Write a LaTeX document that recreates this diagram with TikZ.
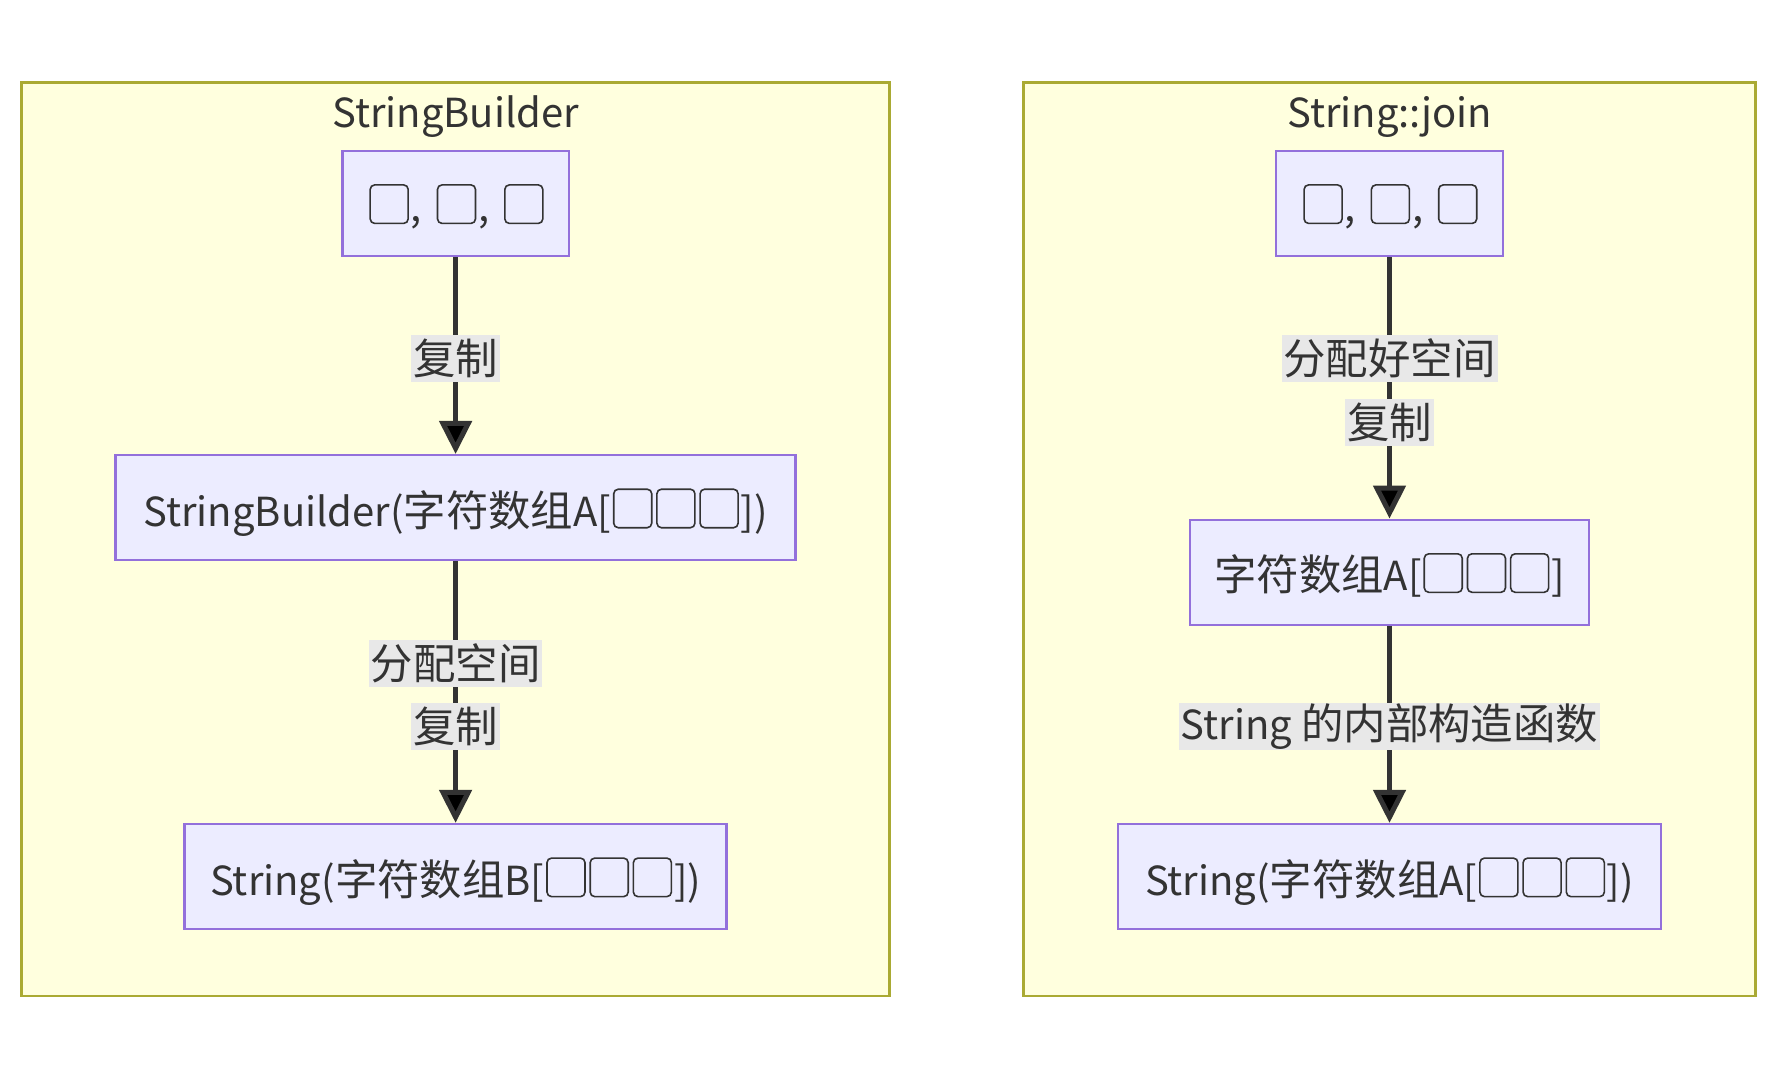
\documentclass[tikz,border=0pt]{standalone}
\usepackage{fontspec}
\setmainfont{Noto Sans CJK SC}
\newfontfamily\cjk{Noto Sans CJK SC}[Scale=1.06]
\newcommand{\zh}[1]{{\cjk #1}}
\usetikzlibrary{arrows.meta}
\definecolor{clfill}{HTML}{FFFFDE}
\definecolor{cldraw}{HTML}{AAAA33}
\definecolor{ndfill}{HTML}{ECECFF}
\definecolor{nddraw}{HTML}{9370DB}
\definecolor{ink}{HTML}{333333}
\definecolor{lblbg}{HTML}{E8E8E8}
% placeholder glyph box (missing-glyph tofu, as printed in the reference)
\newcommand{\tf}{\hspace{1.8pt}\tikz[baseline=1.5pt]\draw[draw=ink, line width=1.6pt, rounded corners=4.5pt] (0pt,0pt) rectangle (38pt,38.5pt);\hspace{1.8pt}}
\newcommand{\tsep}{,\hspace{13pt}}
\tikzset{
  cluster/.style={draw=cldraw, fill=clfill, line width=2.5pt},
  cltitle/.style={text=ink, font=\fontsize{40}{48}\selectfont, inner sep=0pt},
  nd/.style={draw=nddraw, fill=ndfill, line width=2.5pt, text=ink, font=\fontsize{40}{48}\selectfont, minimum height=105pt, inner sep=0pt, text height=42pt, text depth=5pt},
  lbl/.style={fill=lblbg, text=ink, font=\fontsize{40}{48}\selectfont, inner xsep=2pt, inner ysep=0pt, minimum height=47pt},
  arr/.style={draw=ink, line width=5pt, -{Triangle[length=33pt, width=32pt]}}
}
\begin{document}
\begin{tikzpicture}[x=1pt,y=-1pt]
\useasboundingbox[fill=white] (0,0) rectangle (1777,1080);
% clusters
\draw[cluster] (21.5,82.7) rectangle (889.7,996);
\draw[cluster] (1023.4,82.7) rectangle (1755.5,996);
\node[cltitle] (t1) at (455.6,117) {StringBuilder};
\node[cltitle] (t2) at (1389.5,117) {String::join};
% left nodes
\node[nd, minimum width=226.7pt] (a1) at (455.6,203.4) {\tf\tsep\tf\tsep\tf};
\node[nd, minimum width=680pt] (a2) at (455.6,507.7) {StringBuilder(\zh{字符数组}A[\tf\tf\tf])};
\node[nd, minimum width=541.8pt] (a3) at (455.6,876.6) {String(\zh{字符数组}B[\tf\tf\tf])};
% right nodes
\node[nd, minimum width=226.8pt] (b1) at (1389.5,203.4) {\tf\tsep\tf\tsep\tf};
\node[nd, minimum width=399pt] (b2) at (1389.5,572.3) {\zh{字符数组}A[\tf\tf\tf]};
\node[nd, minimum width=543pt] (b3) at (1389.5,876.6) {String(\zh{字符数组}A[\tf\tf\tf])};
% edges
\draw[arr] (a1) -- (a2);
\draw[arr] (a2) -- (a3);
\draw[arr] (b1) -- (b2);
\draw[arr] (b2) -- (b3);
% labels
\node[lbl] (l1) at (455.6,358) {\zh{复制}};
\node[lbl] (l2) at (455.6,663) {\zh{分配空间}};
\node[lbl] (l3) at (455.6,726.5) {\zh{复制}};
\node[lbl] (r1) at (1389.5,358) {\zh{分配好空间}};
\node[lbl] (r2) at (1389.5,422.7) {\zh{复制}};
\node[lbl] (r3) at (1389.5,726.5) {String \zh{的内部构造函数}};
\end{tikzpicture}
\end{document}
